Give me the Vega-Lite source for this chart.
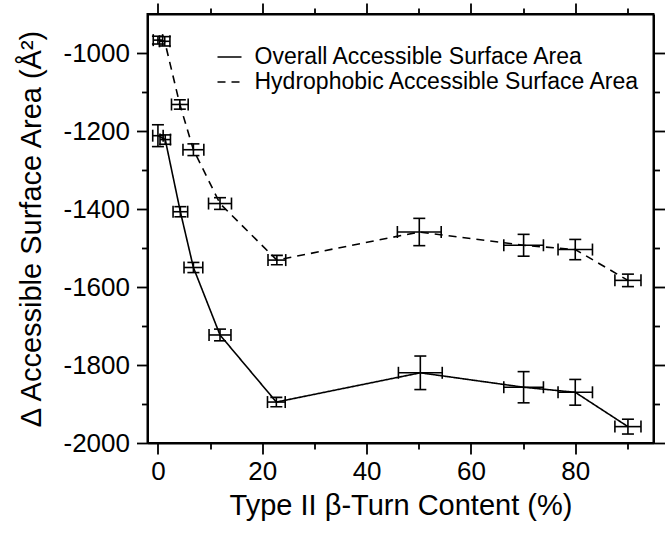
{
  "$schema": "https://vega.github.io/schema/vega-lite/v6.json",
  "width": 506,
  "height": 429,
  "autosize": {"type": "none"},
  "padding": {"left": 147.5, "top": 14, "right": 14.5, "bottom": 90},
  "background": "white",
  "config": {
    "view": {"stroke": "black", "strokeWidth": 2},
    "font": "Liberation Sans",
    "axis": {
      "grid": false,
      "domainColor": "black",
      "domainWidth": 2,
      "tickColor": "black",
      "tickWidth": 1.8,
      "labelColor": "black",
      "labelFont": "Liberation Sans",
      "labelFontSize": 26,
      "titleFont": "Liberation Sans",
      "titleFontSize": 29,
      "titleFontWeight": "normal",
      "titleColor": "black"
    }
  },
  "data": {
    "values": [
      {"series": "Overall Accessible Surface Area", "x": 0, "y": -1212, "xlo": -1, "xhi": 1, "ylo": -1240, "yhi": -1184},
      {"series": "Overall Accessible Surface Area", "x": 1.4, "y": -1222, "xlo": 0.4, "xhi": 2.4, "ylo": -1234, "yhi": -1210},
      {"series": "Overall Accessible Surface Area", "x": 4.3, "y": -1407, "xlo": 2.9, "xhi": 5.7, "ylo": -1420, "yhi": -1394},
      {"series": "Overall Accessible Surface Area", "x": 6.8, "y": -1550, "xlo": 5.0, "xhi": 8.6, "ylo": -1563, "yhi": -1537},
      {"series": "Overall Accessible Surface Area", "x": 11.9, "y": -1723, "xlo": 9.8, "xhi": 14.0, "ylo": -1738, "yhi": -1708},
      {"series": "Overall Accessible Surface Area", "x": 22.7, "y": -1895, "xlo": 21.0, "xhi": 24.4, "ylo": -1907, "yhi": -1883},
      {"series": "Overall Accessible Surface Area", "x": 50.3, "y": -1820, "xlo": 46.1, "xhi": 54.5, "ylo": -1863, "yhi": -1777},
      {"series": "Overall Accessible Surface Area", "x": 70.1, "y": -1857, "xlo": 66.3, "xhi": 73.9, "ylo": -1897, "yhi": -1817},
      {"series": "Overall Accessible Surface Area", "x": 80, "y": -1870, "xlo": 76.7, "xhi": 83.3, "ylo": -1903, "yhi": -1837},
      {"series": "Overall Accessible Surface Area", "x": 90.1, "y": -1958, "xlo": 87.6, "xhi": 92.6, "ylo": -1977, "yhi": -1939},
      {"series": "Hydrophobic Accessible Surface Area", "x": 0, "y": -967, "xlo": -0.9, "xhi": 0.9, "ylo": -977, "yhi": -957},
      {"series": "Hydrophobic Accessible Surface Area", "x": 1.3, "y": -970, "xlo": 0.3, "xhi": 2.3, "ylo": -982, "yhi": -958},
      {"series": "Hydrophobic Accessible Surface Area", "x": 4.2, "y": -1132, "xlo": 2.6, "xhi": 5.8, "ylo": -1144, "yhi": -1120},
      {"series": "Hydrophobic Accessible Surface Area", "x": 6.8, "y": -1248, "xlo": 4.8, "xhi": 8.8, "ylo": -1263, "yhi": -1233},
      {"series": "Hydrophobic Accessible Surface Area", "x": 11.9, "y": -1386, "xlo": 9.7, "xhi": 14.1, "ylo": -1401, "yhi": -1371},
      {"series": "Hydrophobic Accessible Surface Area", "x": 22.8, "y": -1531, "xlo": 21.1, "xhi": 24.5, "ylo": -1543, "yhi": -1519},
      {"series": "Hydrophobic Accessible Surface Area", "x": 50.1, "y": -1459, "xlo": 45.9, "xhi": 54.3, "ylo": -1494, "yhi": -1424},
      {"series": "Hydrophobic Accessible Surface Area", "x": 70.1, "y": -1493, "xlo": 66.3, "xhi": 73.9, "ylo": -1521, "yhi": -1465},
      {"series": "Hydrophobic Accessible Surface Area", "x": 80, "y": -1504, "xlo": 76.7, "xhi": 83.3, "ylo": -1530, "yhi": -1478},
      {"series": "Hydrophobic Accessible Surface Area", "x": 90.1, "y": -1583, "xlo": 87.6, "xhi": 92.6, "ylo": -1599, "yhi": -1567}
    ]
  },
  "resolve": {"axis": {"x": "independent", "y": "independent"}},
  "layer": [
    {
      "mark": {"type": "line", "color": "black", "strokeWidth": 1.6},
      "encoding": {
        "x": {
          "field": "x", "type": "quantitative",
          "scale": {"domain": [-2, 95], "nice": false, "zero": false},
          "axis": {
            "orient": "bottom",
            "title": "Type II β-Turn Content (%)",
            "values": [0, 10, 20, 30, 40, 50, 60, 70, 80, 90],
            "labelExpr": "datum.value % 20 === 0 ? '' + datum.value : ''",
            "tickSize": {"condition": {"test": "datum.value % 20 === 0", "value": 11}, "value": 6},
            "labelPadding": 4,
            "titlePadding": 7
          }
        },
        "y": {
          "field": "y", "type": "quantitative",
          "scale": {"domain": [-2000, -900], "nice": false, "zero": false},
          "axis": {
            "orient": "left",
            "title": "Δ Accessible Surface Area (Å²)",
            "values": [-2000, -1900, -1800, -1700, -1600, -1500, -1400, -1300, -1200, -1100, -1000],
            "labelExpr": "datum.value % 200 === 0 ? '' + datum.value : ''",
            "tickSize": {"condition": {"test": "datum.value % 200 === 0", "value": 11}, "value": 6},
            "labelPadding": 7,
            "titlePadding": 17
          }
        },
        "strokeDash": {
          "field": "series", "type": "nominal",
          "scale": {
            "domain": ["Overall Accessible Surface Area", "Hydrophobic Accessible Surface Area"],
            "range": [[1, 0], [8, 6]]
          },
          "legend": {
            "orient": "none",
            "legendX": 69,
            "legendY": 30,
            "title": null,
            "padding": 0,
            "symbolType": "stroke",
            "symbolSize": 576,
            "symbolStrokeWidth": 1.6,
            "symbolStrokeColor": "black",
            "labelFont": "Liberation Sans",
            "labelFontSize": 23,
            "labelColor": "black",
            "labelOffset": 12,
            "rowPadding": 0,
            "labelLimit": 600
          }
        },
        "order": {"field": "x", "type": "quantitative"}
      }
    },
    {
      "mark": {"type": "rule", "color": "black", "strokeWidth": 1.6},
      "encoding": {
        "x": {
          "field": "x", "type": "quantitative",
          "axis": {
            "orient": "top", "title": null, "labels": false,
            "values": [0, 10, 20, 30, 40, 50, 60, 70, 80, 90],
            "tickSize": {"condition": {"test": "datum.value % 20 === 0", "value": 11}, "value": 6}
          }
        },
        "y": {
          "field": "ylo", "type": "quantitative",
          "axis": {
            "orient": "right", "title": null, "labels": false,
            "values": [-2000, -1900, -1800, -1700, -1600, -1500, -1400, -1300, -1200, -1100, -1000],
            "tickSize": {"condition": {"test": "datum.value % 200 === 0", "value": 11}, "value": 6}
          }
        },
        "y2": {"field": "yhi"}
      }
    },
    {
      "mark": {"type": "rule", "color": "black", "strokeWidth": 1.6},
      "encoding": {
        "x": {"field": "xlo", "type": "quantitative", "axis": null},
        "x2": {"field": "xhi"},
        "y": {"field": "y", "type": "quantitative", "axis": null}
      }
    },
    {
      "mark": {"type": "tick", "orient": "horizontal", "color": "black", "thickness": 1.6, "size": 12, "opacity": 1},
      "encoding": {
        "x": {"field": "x", "type": "quantitative", "axis": null},
        "y": {"field": "ylo", "type": "quantitative", "axis": null}
      }
    },
    {
      "mark": {"type": "tick", "orient": "horizontal", "color": "black", "thickness": 1.6, "size": 12, "opacity": 1},
      "encoding": {
        "x": {"field": "x", "type": "quantitative", "axis": null},
        "y": {"field": "yhi", "type": "quantitative", "axis": null}
      }
    },
    {
      "mark": {"type": "tick", "orient": "vertical", "color": "black", "thickness": 1.6, "size": 12, "opacity": 1},
      "encoding": {
        "x": {"field": "xlo", "type": "quantitative", "axis": null},
        "y": {"field": "y", "type": "quantitative", "axis": null}
      }
    },
    {
      "mark": {"type": "tick", "orient": "vertical", "color": "black", "thickness": 1.6, "size": 12, "opacity": 1},
      "encoding": {
        "x": {"field": "xhi", "type": "quantitative", "axis": null},
        "y": {"field": "y", "type": "quantitative", "axis": null}
      }
    }
  ]
}
